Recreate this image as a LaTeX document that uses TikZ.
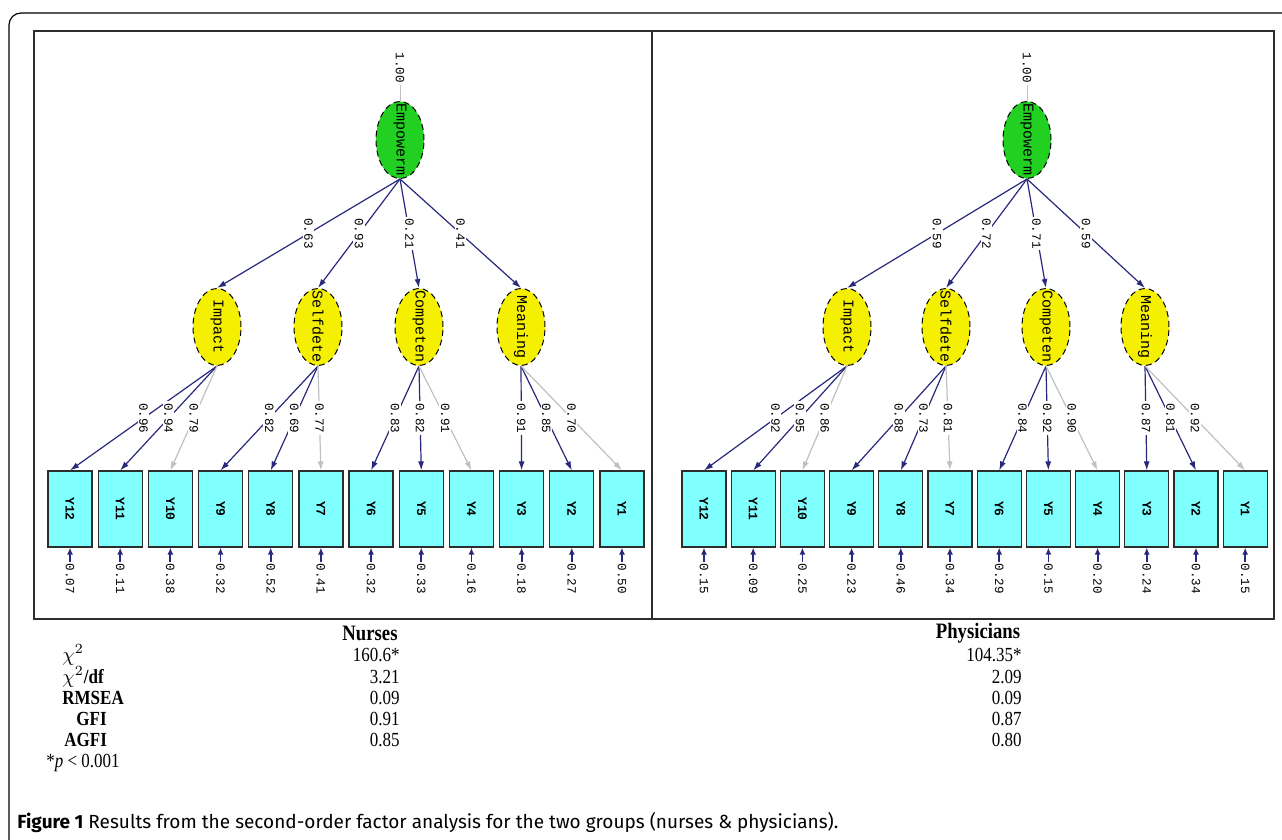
\documentclass[tikz,border=0pt]{standalone}
\usepackage{graphicx}
\usepackage{fontspec}
\setmainfont{Liberation Serif}
\newfontfamily\tabfont[FakeStretch=0.85]{Liberation Serif}
\newfontfamily\lisfont{Liberation Mono}
\newfontfamily\capfont{Fira Sans}
\usetikzlibrary{shapes.geometric,arrows.meta}

\definecolor{empgreen}{RGB}{34,208,34}
\definecolor{facyellow}{RGB}{245,240,0}
\definecolor{obscyan}{RGB}{128,255,255}
\definecolor{pathnavy}{RGB}{40,40,125}
\definecolor{pathgray}{RGB}{192,192,192}
\definecolor{framegray}{RGB}{45,45,45}

\newcommand{\vt}[1]{\rotatebox{-90}{#1}}
% #1 prefix, #2 x of Empowerm, #3 x of Y12, #4 box spacing, #5 factors, #6 indicators, #7 errors
\newcommand{\semside}[7]{%
  \node[num] (#1-one) at (#2,68) {\vt{1.00}};
  \node[latent,fill=empgreen,label={[latfont]center:\vt{Empowerm}}] (#1-emp) at (#2,140) {};
  \draw[fixline] (#1-one) -- (#1-emp);
  \foreach \f/\t/\x/\l in {#5} {
    \node[latent,fill=facyellow,label={[latfont]center:\vt{\t}}] (#1-\f) at (\x,327) {};
    \draw[sigpath] (#1-emp.south) -- node[num,fill=white] {\vt{\l}} (#1-\f.north);
  }
  \foreach \i/\e in {#7} {
    \node[obs] (#1-y\i) at ({#3+(12-\i)*#4},509) {\vt{Y\i}};
    \node[num,anchor=north] (#1-e\i) at ([yshift=-7pt]#1-y\i.south) {\vt{\e}};
    \draw[errpath] (#1-e\i) -- (#1-y\i);
  }
  \foreach \f/\i/\l/\s in {#6}
    \draw[\s] (#1-\f.south) -- node[num,fill=white] {\vt{\l}} (#1-y\i.north);
}

\begin{document}
\begin{tikzpicture}[x=0.5pt,y=-0.5pt,
    latent/.style={ellipse,draw=black,densely dashed,line width=0.5pt,inner sep=0pt,
      minimum width=24pt,minimum height=38.5pt},
    latfont/.style={font=\lisfont\fontsize{7.5}{8}\selectfont,inner sep=0pt},
    obs/.style={rectangle,draw=framegray,fill=obscyan,line width=0.6pt,inner sep=0pt,
      minimum width=22pt,minimum height=38pt,font=\lisfont\bfseries\fontsize{6.5}{7}\selectfont},
    num/.style={font=\lisfont\fontsize{6.3}{7}\selectfont,inner sep=0.8pt},
    sigpath/.style={draw=pathnavy,line width=0.6pt,-{Latex[length=4.5pt,width=3pt]}},
    fixpath/.style={draw=pathgray,line width=0.6pt,-{Latex[length=4.5pt,width=3pt]}},
    errpath/.style={draw=pathnavy,line width=0.9pt,-{Latex[length=3.5pt,width=3pt]}},
    fixline/.style={draw=pathgray,line width=0.5pt},
    panel/.style={draw=framegray,line width=1pt},
    tabtxt/.style={font=\tabfont\fontsize{10}{11}\selectfont,inner sep=0pt},
  ]
  \useasboundingbox (0,0) rectangle (1282,840);
  \draw[line width=0.6pt,rounded corners=6pt] (1282,13) -- (9,13) -- (9,840);
  \draw[panel] (34,31) rectangle (652,619);
  \draw[panel] (652,31) rectangle (1274,619);

  \semside{L}{400}{70}{50.18}
    {imp/Impact/217/0.63, sel/Selfdete/318/0.93, com/Competen/419/0.21, mea/Meaning/521/0.41}
    {imp/12/0.96/sigpath, imp/11/0.94/sigpath, imp/10/0.79/fixpath,
     sel/9/0.82/sigpath, sel/8/0.69/sigpath, sel/7/0.77/fixpath,
     com/6/0.83/sigpath, com/5/0.82/sigpath, com/4/0.91/fixpath,
     mea/3/0.91/sigpath, mea/2/0.85/sigpath, mea/1/0.70/fixpath}
    {12/0.07, 11/0.11, 10/0.38, 9/0.32, 8/0.52, 7/0.41, 6/0.32, 5/0.33, 4/0.16, 3/0.18, 2/0.27, 1/0.50}

  \semside{R}{1027}{704}{49.2}
    {imp/Impact/847/0.59, sel/Selfdete/946/0.72, com/Competen/1046/0.71, mea/Meaning/1145/0.59}
    {imp/12/0.92/sigpath, imp/11/0.95/sigpath, imp/10/0.86/fixpath,
     sel/9/0.88/sigpath, sel/8/0.73/sigpath, sel/7/0.81/fixpath,
     com/6/0.84/sigpath, com/5/0.92/sigpath, com/4/0.90/fixpath,
     mea/3/0.87/sigpath, mea/2/0.81/sigpath, mea/1/0.92/fixpath}
    {12/0.15, 11/0.09, 10/0.25, 9/0.23, 8/0.46, 7/0.34, 6/0.29, 5/0.15, 4/0.20, 3/0.24, 2/0.34, 1/0.15}

  \node[tabtxt,font=\tabfont\bfseries\fontsize{11}{12}\selectfont] (nurses) at (370,633) {Nurses};
  \node[tabtxt,font=\tabfont\bfseries\fontsize{11}{12}\selectfont] (physicians) at (978,633) {Physicians};
  \foreach \k/\y/\t/\a/\b in {chi/655/{$\chi^2$}/160.6*/104.35*,
      chidf/677/{$\chi^2$\textbf{/df}}/3.21/2.09,
      rmsea/698/{\textbf{RMSEA}}/0.09/0.09,
      gfi/719/{\hspace{7pt}\textbf{GFI}}/0.91/0.87,
      agfi/740/{\hspace{1pt}\textbf{AGFI}}/0.85/0.80} {
    \node[tabtxt,anchor=west] (\k-name) at (62,\y) {\t};
    \node[tabtxt,anchor=east] (\k-nurses) at (400,\y) {\a};
    \node[tabtxt,anchor=east] (\k-physicians) at (1022,\y) {\b};
  }
  \node[tabtxt,anchor=west] (pnote) at (46,763) {*\textit{p} < 0.001};
  \node[anchor=west,inner sep=0pt,font=\capfont\fontsize{9.5}{10}\selectfont] (caption) at (17,823)
    {\textbf{Figure 1} Results from the second-order factor analysis for the two groups (nurses \& physicians).};
\end{tikzpicture}
\end{document}
